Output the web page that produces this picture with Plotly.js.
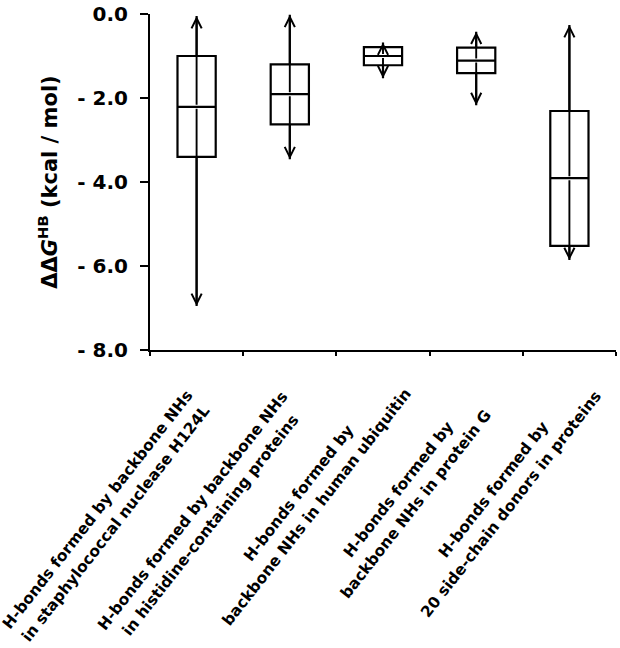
<!DOCTYPE html>
<html>
<head>
<meta charset="utf-8">
<script src="https://cdn.plot.ly/plotly-3.0.1.min.js"></script>
<style>html,body{margin:0;padding:0;background:#fff;}</style>
</head>
<body>
<div id="chart" style="width:620px;height:648px;"></div>
<script>
// ---- data ----
const labelLine1 = [
  'H-bonds formed by backbone NHs',
  'H-bonds formed by backbone NHs',
  'H-bonds formed by',
  'H-bonds formed by',
  'H-bonds formed by'
];
const labelLine2 = [
  'in staphylococcal nuclease H124L',
  'in histidine-containing proteins',
  'backbone NHs in human ubiquitin',
  'backbone NHs in protein G',
  '20 side-chain donors in proteins'
];
const q1Values     = [-3.40, -2.63, -1.22, -1.41, -5.52];
const medianValues = [-2.21, -1.91, -1.00, -1.11, -3.91];
const q3Values     = [-1.00, -1.20, -0.79, -0.80, -2.31];
const lowerWhisker = [-6.95, -3.46, -1.53, -2.17, -5.86];
const upperWhisker = [-0.05, -0.02, -0.68, -0.42, -0.26];
const yTickValues  = [0, -2, -4, -6, -8];
const yTickText    = ['0.0', '- 2.0', '- 4.0', '- 6.0', '- 8.0'];

// ---- layout helpers (label block centre offsets in px from tick / axis) ----
const labelOffsetX = [-90, -88, -75, -69, -67];
const labelOffsetY = [167, 168, 150, 147, 147];
const labelAngle = 52;
const lineGap = 23;

const xPos = labelLine1.map((_, i) => i);

const boxTrace = {
  type: 'box',
  x: xPos,
  q1: q1Values,
  median: medianValues,
  q3: q3Values,
  lowerfence: lowerWhisker,
  upperfence: upperWhisker,
  boxpoints: false,
  whiskerwidth: 0,
  width: 0.41,
  fillcolor: 'rgba(0,0,0,0)',
  line: {color: '#000', width: 2.2},
  hoverinfo: 'skip'
};

const annotations = [];
// whiskers with arrowheads, drawn from the median outward
xPos.forEach((xi, i) => {
  [upperWhisker[i], lowerWhisker[i]].forEach(end => {
    annotations.push({
      x: xi, y: end, ax: xi, ay: medianValues[i],
      xref: 'x', yref: 'y', axref: 'x', ayref: 'y',
      text: ' ', font: {size: 1},
      showarrow: true, arrowhead: 5, arrowsize: 1.05, arrowwidth: 1.9,
      arrowcolor: '#000', standoff: 0
    });
  });
});
// rotated category labels
const th = labelAngle * Math.PI / 180;
xPos.forEach((xi, i) => {
  [labelLine1[i], labelLine2[i]].forEach((txt, k) => {
    const f = (k - 0.5) * lineGap;
    const dx = labelOffsetX[i] + f * Math.sin(th);
    const dy = labelOffsetY[i] + f * Math.cos(th);
    annotations.push({
      x: xi, y: 0, xref: 'x', yref: 'paper',
      text: txt, showarrow: false, textangle: -labelAngle,
      xanchor: 'center', yanchor: 'middle',
      xshift: dx, yshift: -dy,
      font: {family: 'DejaVu Sans', size: 15.5, weight: 'bold', color: '#000'}
    });
  });
});

const layout = {
  width: 620, height: 648,
  margin: {l: 150, r: 4, t: 14, b: 298},
  paper_bgcolor: '#fff', plot_bgcolor: '#fff',
  showlegend: false,
  xaxis: {
    type: 'linear', range: [-0.5, 4.5],
    tickvals: [-0.5, 0.5, 1.5, 2.5, 3.5, 4.5],
    showticklabels: false, ticks: 'outside', ticklen: 4, tickwidth: 2, tickcolor: '#000',
    showline: true, linewidth: 2, linecolor: '#000',
    showgrid: false, zeroline: false, fixedrange: true
  },
  yaxis: {
    range: [-8, 0],
    tickvals: yTickValues, ticktext: yTickText,
    ticks: 'outside', ticklen: 8, tickwidth: 2, tickcolor: '#000',
    ticklabelstandoff: 8,
    tickfont: {family: 'DejaVu Sans', size: 20, weight: 'bold', color: '#000'},
    showline: true, linewidth: 2, linecolor: '#000',
    showgrid: false, zeroline: false, automargin: false,
    title: {
      text: 'ΔΔ<i>G</i><sup>HB</sup> (kcal / mol)',
      font: {family: 'DejaVu Sans', size: 21, weight: 'bold', color: '#000'},
      standoff: 14
    }
  },
  annotations: annotations
};

Plotly.newPlot('chart', [boxTrace], layout, {staticPlot: true, displayModeBar: false});
</script>
</body>
</html>
